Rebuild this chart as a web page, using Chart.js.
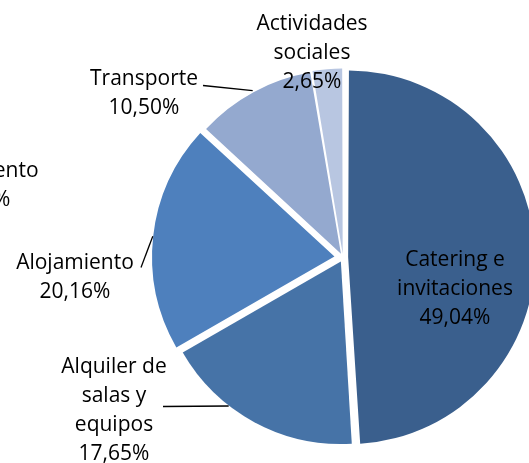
<!DOCTYPE html>
<html lang="es">
<head>
<meta charset="utf-8">
<title>Distribución del presupuesto</title>
<script src="https://cdn.jsdelivr.net/npm/chart.js@4.4.1/dist/chart.umd.min.js"></script>
<style>
  html, body { margin: 0; padding: 0; background: #fff; overflow: hidden; }
  #wrap { width: 529px; height: 463px; }
</style>
</head>
<body>
<div id="wrap"><canvas id="pie" width="529" height="463"></canvas></div>
<script>
// ============================
// DATOS
// ============================

const categories = [
  ["Catering e", "invitaciones"],
  ["Alquiler de", "salas y", "equipos"],
  ["Alojamiento"],
  ["Documento"],
  ["Transporte"],
  ["Actividades", "sociales"]
];

const shares = [49.04, 17.65, 20.16, 0, 10.50, 2.65];

// ============================
// ESTILO
// ============================

const sliceColors = ["#3a5f8d", "#4673a7", "#4e80bd", "#7f9acb", "#94a9cf", "#b8c6e1"];

// cuánto se separa cada porción del centro (px)
const explodePx = [10, 5, 9, 0, 6, 7];

// radio base; Chart.js lo agranda un poco en las porciones pequeñas/grandes
const PIE_RADIUS = 182;
const FONT = "21px 'Open Sans', sans-serif";
const LINE_H = 29;

// centro de cada bloque de texto, relativo al centro de la tarta
const labelOffsets = [
  { dx: 112, dy: 32 },
  { dx: -229, dy: 153 },
  { dx: -268, dy: 20 },
  { dx: -362, dy: -72 },
  { dx: -199, dy: -164 },
  { dx: -31, dy: -204 }
];

// líneas guía: arranque junto al texto y punto del borde (fracción del arco) donde acaban
const leaders = [
  null,
  { dx: -180, dy: 149, at: 0.65 },
  { dx: -202, dy: 10, at: 0.5 },
  null,
  { dx: -140, dy: -172, at: 0.5 },
  null
];

// ============================
// HELPERS
// ============================

const total = shares.reduce((a, b) => a + b, 0);

function formatPct(v) {
  return (v / total * 100).toFixed(2).replace(".", ",") + "%";
}

// Chart.js traslada el arco offset/4 * (1 + fix); se invierte para obtener px reales
function toArcOffset(px, value) {
  const circ = 2 * Math.PI * value / total;
  return 4 * px / (2 - Math.sin(Math.min(Math.PI, circ)));
}

// centro desplazado y radio real con que se pinta cada porción
function sliceGeometry(arc) {
  const { x, y, startAngle, endAngle, outerRadius } =
    arc.getProps(["x", "y", "startAngle", "endAngle", "outerRadius"], true);
  const circ = endAngle - startAngle;
  const off = (arc.options.offset || 0) / 4;
  const fix = 1 - Math.sin(Math.min(Math.PI, circ));
  const t = off * (1 + fix);
  const half = (startAngle + endAngle) / 2;
  return {
    x: x + Math.cos(half) * t,
    y: y + Math.sin(half) * t,
    r: outerRadius + off * fix,
    startAngle,
    endAngle
  };
}

// ============================
// PLUGIN: ETIQUETAS
// ============================

const sliceLabels = {
  id: "sliceLabels",
  afterDatasetsDraw(chart) {
    const ctx = chart.ctx;
    const arcs = chart.getDatasetMeta(0).data;
    const cx = arcs[0].x;
    const cy = arcs[0].y;

    ctx.save();

    // líneas guía
    ctx.strokeStyle = "#000";
    ctx.lineWidth = 1.3;
    leaders.forEach((ld, i) => {
      if (!ld) return;
      const g = sliceGeometry(arcs[i]);
      const a = g.startAngle + (g.endAngle - g.startAngle) * ld.at;
      ctx.beginPath();
      ctx.moveTo(cx + ld.dx, cy + ld.dy);
      ctx.lineTo(g.x + Math.cos(a) * g.r, g.y + Math.sin(a) * g.r);
      ctx.stroke();
    });

    // texto
    ctx.font = FONT;
    ctx.fillStyle = "#000";
    ctx.textAlign = "center";
    ctx.textBaseline = "middle";
    categories.forEach((name, i) => {
      const lines = [...name, formatPct(shares[i])];
      const pos = labelOffsets[i];
      const top = cy + pos.dy - (lines.length - 1) * LINE_H / 2;
      lines.forEach((txt, j) => {
        ctx.fillText(txt, cx + pos.dx, top + j * LINE_H);
      });
    });

    ctx.restore();
  }
};

// ============================
// GRÁFICA
// ============================

new Chart(document.getElementById("pie"), {
  type: "pie",
  data: {
    labels: categories,
    datasets: [{
      data: shares,
      backgroundColor: sliceColors,
      borderWidth: 0,
      offset: shares.map((v, i) => toArcOffset(explodePx[i], v)),
      radius: PIE_RADIUS,
      clip: false
    }]
  },
  options: {
    responsive: false,
    animation: false,
    events: [],
    layout: { padding: { left: 157, right: 0, top: 52, bottom: 0 } },
    plugins: {
      legend: { display: false },
      tooltip: { enabled: false }
    }
  },
  plugins: [sliceLabels]
});
</script>
</body>
</html>
